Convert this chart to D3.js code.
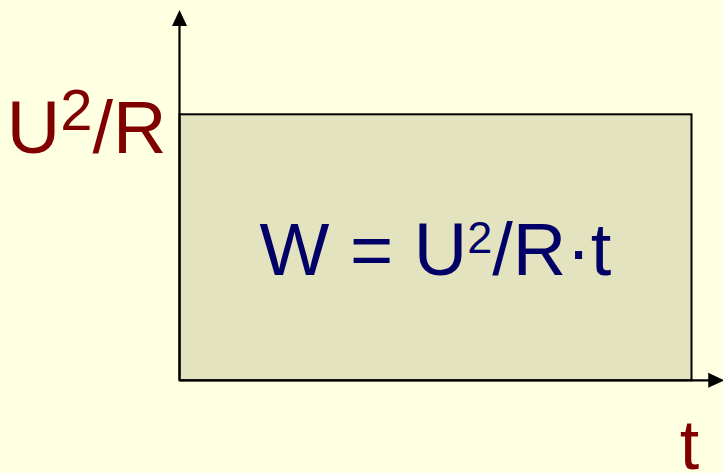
<!DOCTYPE html>
<html>
<head>
<meta charset="utf-8">
<script src="https://cdn.jsdelivr.net/npm/d3@7"></script>
<style>
  html, body { margin: 0; padding: 0; background: #ffffe1; }
  svg { display: block; }
  text { font-family: "Liberation Sans", Arial, sans-serif; }
</style>
</head>
<body>
<svg width="723" height="473"></svg>
<script>
//  Power is constant over the time span, so the energy is the rectangle area
const timeSpan = [0, 1];          // t from 0 to t
const powerLevel = [1];           // constant level U²/R
const yTickLabel = ['U', '2', '/R'];
const xTickLabel = ['t'];
const formulaParts = ['W = U', '2', '/R·t'];

const width = 723;
const height = 473;
const svg = d3.select('svg');

// ======================= SCALES ===============================
const xScale = d3.scaleLinear().domain([0, 1]).range([179.5, 691.5]);
const yScale = d3.scaleLinear().domain([0, 1]).range([380.3, 114.3]);

const xAxisEnd = 1.064;    // the axis runs past the rectangle up to the arrow tip
const yAxisEnd = 1.392;

// ======================= AREA ===============================
svg.append('g')
    .selectAll('rect')
    .data(powerLevel)
    .enter()
    .append('rect')
    .attr('x', xScale(timeSpan[0]))
    .attr('y', d => yScale(d))
    .attr('width', xScale(timeSpan[1]) - xScale(timeSpan[0]))
    .attr('height', d => yScale(0) - yScale(d))
    .attr('fill', '#e3e3bf')
    .attr('stroke', '#000')
    .attr('stroke-width', 2);

// ======================= AXES ===============================
const x0 = xScale(0), y0 = yScale(0);
const xTip = xScale(xAxisEnd), yTip = yScale(yAxisEnd);

svg.append('line')
    .attr('x1', x0).attr('y1', y0)
    .attr('x2', xTip - 10).attr('y2', y0)
    .attr('stroke', '#000').attr('stroke-width', 2.2);
svg.append('path')
    .attr('d', `M${xTip},${y0} L${xTip - 16},${y0 - 7.5} L${xTip - 16},${y0 + 7.5} Z`)
    .attr('fill', '#000');

svg.append('line')
    .attr('x1', x0).attr('y1', y0)
    .attr('x2', x0).attr('y2', yTip + 10)
    .attr('stroke', '#000').attr('stroke-width', 2.2);
svg.append('path')
    .attr('d', `M${x0},${yTip} L${x0 - 7.5},${yTip + 16} L${x0 + 7.5},${yTip + 16} Z`)
    .attr('fill', '#000');

// ======================= LABELS ===============================
const yLabel = svg.append('text')
    .attr('x', x0 - 13)
    .attr('y', yScale(powerLevel[0]) + 39)
    .attr('text-anchor', 'end')
    .attr('fill', '#800000')
    .style('font-size', '74px');
yLabel.append('tspan').text(yTickLabel[0]);
yLabel.append('tspan').attr('dy', -23).style('font-size', '58px').text(yTickLabel[1]);
yLabel.append('tspan').attr('dy', 23).text(yTickLabel[2]);

svg.append('text')
    .attr('x', xScale(1) - 2)
    .attr('y', 469)
    .attr('text-anchor', 'middle')
    .attr('fill', '#800000')
    .style('font-size', '70px')
    .text(xTickLabel[0]);

//  Formula in the middle of the area
const formula = svg.append('text')
    .attr('x', (xScale(0) + xScale(1)) / 2)
    .attr('y', (yScale(0) + yScale(1)) / 2 + 28)
    .attr('text-anchor', 'middle')
    .attr('fill', '#000066')
    .style('font-size', '74px');
formula.append('tspan').text(formulaParts[0]);
formula.append('tspan').attr('dy', -22).style('font-size', '45px').text(formulaParts[1]);
formula.append('tspan').attr('dy', 22).text(formulaParts[2]);
</script>
</body>
</html>
